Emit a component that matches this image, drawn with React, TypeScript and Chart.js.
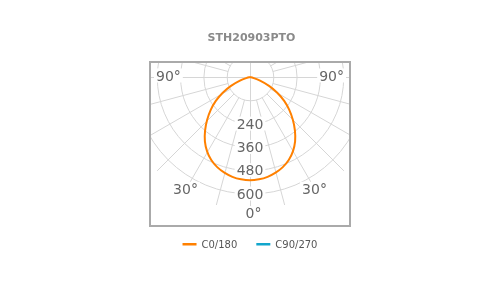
import React, { useEffect, useRef } from "react";
import { Chart, registerables } from "chart.js";

Chart.register(...registerables);

const chartTitle = "STH20903PTO";
const seriesNames = ["C0/180", "C90/270"];
const seriesColors = ["#ff8000", "#12a6cc"];

// gamma angles (deg from nadir) and luminous intensity (cd)
const gammaAngles = [0, 5, 10, 15, 20, 25, 30, 35, 40, 45, 50, 55, 60, 65, 70, 75, 80, 85, 90];
const c0Values = [532, 529, 522, 510, 494, 472, 442, 405, 360, 312, 264, 215, 162, 108, 55, 15, 0, 0, 0];
const c180Values = [532, 529, 522, 510, 494, 472, 442, 405, 360, 312, 264, 215, 162, 108, 55, 15, 0, 0, 0];
const c90Values: number[] = [];
const c270Values: number[] = [];

const ringValues = [120, 240, 360, 480, 600];
const ringLabels = ["", "240", "360", "480", "600"];
const spokeAngles = [0, 15, 30, 45, 60, 75, 90, 105, 120, 135, 150, 165, 180, 195, 210, 225, 240, 255, 270, 285, 300, 315, 330, 345];
const spokeEndValue = 680;
const angleLabelAngles = [-90, -30, 0, 30, 90];
const angleLabelTexts = ["90°", "30°", "0°", "30°", "90°"];

const CD_PER_PX = 5.15;
const FONT = '"DejaVu Sans", sans-serif';

function planePoints(right: number[], left: number[]) {
  const pts: { x: number; y: number }[] = [];
  for (let i = gammaAngles.length - 1; i >= 0; i--) {
    if (left[i] === undefined) continue;
    const g = (gammaAngles[i] * Math.PI) / 180;
    pts.push({ x: -left[i] * Math.sin(g), y: -left[i] * Math.cos(g) });
  }
  for (let i = 1; i < gammaAngles.length; i++) {
    if (right[i] === undefined) continue;
    const g = (gammaAngles[i] * Math.PI) / 180;
    pts.push({ x: right[i] * Math.sin(g), y: -right[i] * Math.cos(g) });
  }
  return pts;
}

const polarPlugin = {
  id: "polarGrid",
  beforeDatasetsDraw(chart: any) {
    const { ctx, chartArea: ca, scales } = chart;
    const xs = scales.x;
    const ys = scales.y;
    const cx = xs.getPixelForValue(0);
    const cy = ys.getPixelForValue(0);
    const rPx = (v: number) => xs.getPixelForValue(v) - cx;
    ctx.save();
    ctx.beginPath();
    ctx.rect(ca.left, ca.top, ca.right - ca.left, ca.bottom - ca.top);
    ctx.clip();
    ctx.save();
    ctx.translate(0.5, 0.5);
    ctx.strokeStyle = "#d6d6d6";
    ctx.lineWidth = 1;
    ringValues.forEach((v) => {
      ctx.beginPath();
      ctx.arc(cx, cy, rPx(v), 0, Math.PI * 2);
      ctx.stroke();
    });
    spokeAngles.forEach((a) => {
      const t = (a * Math.PI) / 180;
      const r0 = a % 90 === 0 ? 0 : rPx(ringValues[0]);
      const r1 = rPx(spokeEndValue);
      ctx.beginPath();
      ctx.moveTo(cx + r0 * Math.sin(t), cy + r0 * Math.cos(t));
      ctx.lineTo(cx + r1 * Math.sin(t), cy + r1 * Math.cos(t));
      ctx.stroke();
    });
    ctx.restore();

    ctx.font = "14px " + FONT;
    ctx.textBaseline = "alphabetic";
    ctx.textAlign = "left";
    ringLabels.forEach((lab, i) => {
      if (!lab) return;
      const py = cy + rPx(ringValues[i]);
      const w = ctx.measureText(lab).width;
      ctx.fillStyle = "#ffffff";
      ctx.fillRect(cx - w / 2 - 2, py - 7, w + 4, 14);
      ctx.fillStyle = "#666666";
      ctx.fillText(lab, cx - w / 2, py + 5);
    });

    angleLabelAngles.forEach((deg, i) => {
      const text = angleLabelTexts[i];
      const w = ctx.measureText(text).width;
      const t = (deg * Math.PI) / 180;
      const r = deg === 0 ? 136 : 129;
      let tx = cx + r * Math.sin(t);
      let ty = cy + r * Math.cos(t);
      const margin = 6;
      tx = Math.max(ca.left + margin + w / 2, Math.min(ca.right - margin - w / 2, tx));
      if (Math.abs(deg) === 90) ty = cy - 1.5;
      let left = tx - w / 2;
      if (deg === 0) {
        const dw = ctx.measureText(text.replace("°", "")).width;
        left = cx - dw / 2;
      }
      ctx.fillStyle = "#ffffff";
      ctx.fillRect(left - 2, ty - 7, w + 4, 14);
      ctx.fillStyle = "#666666";
      ctx.fillText(text, left, ty + 5);
    });
    ctx.restore();
  },
  afterDraw(chart: any) {
    const { ctx, chartArea: ca } = chart;
    ctx.save();
    ctx.strokeStyle = "#aaaaaa";
    ctx.lineWidth = 2;
    ctx.strokeRect(ca.left, ca.top, ca.right - ca.left, ca.bottom - ca.top);

    const midX = (ca.left + ca.right) / 2;
    ctx.font = "bold 11px " + FONT;
    ctx.fillStyle = "#8a8a8a";
    ctx.textAlign = "center";
    ctx.textBaseline = "alphabetic";
    ctx.fillText(chartTitle, midX + 1.5, ca.top - 21);

    ctx.font = "10px " + FONT;
    ctx.textAlign = "left";
    const box = 14;
    const gap = 5;
    const sep = 19;
    const items = chart.data.datasets.map((ds: any) => ({
      text: ds.label as string,
      color: ds.borderColor as string,
      w: ctx.measureText(ds.label).width,
    }));
    const total = items.reduce((s: number, it: any) => s + box + gap + it.w, 0) + sep * (items.length - 1);
    let lx = midX - total / 2;
    const ly = ca.bottom + 18;
    items.forEach((it: any) => {
      ctx.fillStyle = it.color;
      ctx.fillRect(lx, ly - 1, box, 2.5);
      ctx.fillStyle = "#555555";
      ctx.fillText(it.text, lx + box + gap, ly + 3.5);
      lx += box + gap + it.w + sep;
    });
    ctx.restore();
  },
};

export default function App() {
  const ref = useRef<HTMLCanvasElement | null>(null);
  useEffect(() => {
    if (!ref.current) return;
    const chart = new Chart(ref.current, {
      type: "scatter",
      data: {
        datasets: [
          {
            label: seriesNames[0],
            data: planePoints(c0Values, c180Values),
            showLine: true,
            borderColor: seriesColors[0],
            backgroundColor: seriesColors[0],
            borderWidth: 2,
            pointRadius: 0,
            tension: 0.3,
          },
          {
            label: seriesNames[1],
            data: planePoints(c90Values, c270Values),
            showLine: true,
            borderColor: seriesColors[1],
            backgroundColor: seriesColors[1],
            borderWidth: 2,
            pointRadius: 0,
            tension: 0.3,
          },
        ],
      },
      options: {
        animation: false,
        responsive: false,
        maintainAspectRatio: false,
        layout: { padding: { left: 150, right: 150, top: 62, bottom: 74 } },
        scales: {
          x: { type: "linear", min: -100 * CD_PER_PX, max: 100 * CD_PER_PX, display: false },
          y: { type: "linear", min: -149 * CD_PER_PX, max: 15 * CD_PER_PX, display: false },
        },
        plugins: {
          legend: { display: false },
          title: { display: false },
          tooltip: { enabled: false },
        },
      },
      plugins: [polarPlugin],
    });
    return () => chart.destroy();
  }, []);
  return (
    <div style={{ position: "fixed", left: 0, top: 0, width: 500, height: 300, background: "#fff" }}>
      <canvas ref={ref} width={500} height={300} />
    </div>
  );
}
